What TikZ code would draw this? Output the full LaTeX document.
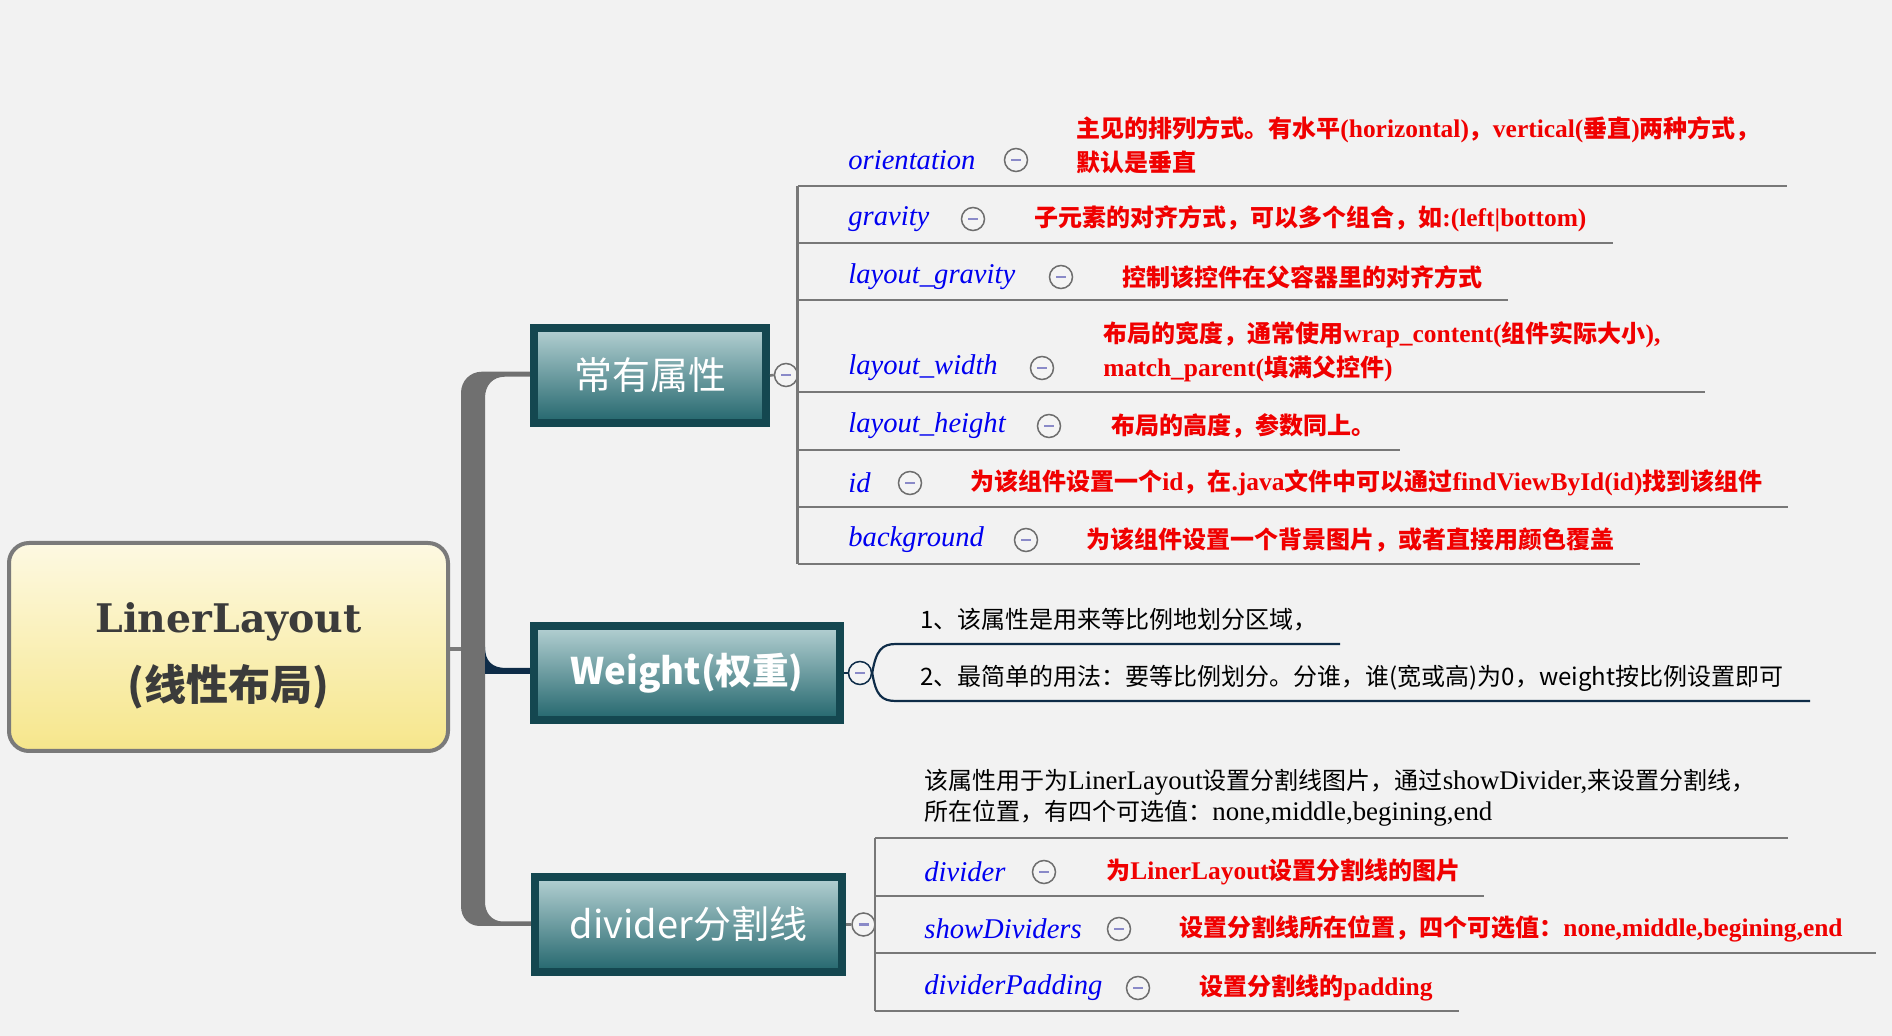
\documentclass[tikz,border=0pt]{standalone}
\usepackage{fontspec}
\newfontfamily\zh{Noto Sans CJK SC}
\newfontfamily\lsr{Liberation Serif}
\newfontfamily\lsx{Liberation Serif}[Scale=1.06]
\newfontfamily\lsy{Liberation Serif}[Scale=1.12]
\newfontfamily\djs{DejaVu Serif}
\newcommand\la[1]{{\lsx #1}}
\newcommand\lb[1]{{\lsy #1}}
\definecolor{bg}{HTML}{F2F2F2}
\definecolor{rootborder}{HTML}{7A7A7A}
\definecolor{roottop}{HTML}{FDF9E2}
\definecolor{rootbot}{HTML}{F6E68B}
\definecolor{roottext}{HTML}{3B3B3B}
\definecolor{trunk}{HTML}{707070}
\definecolor{navy}{HTML}{0E2C48}
\definecolor{topicborder}{HTML}{144750}
\definecolor{topictop}{HTML}{B5D1D3}
\definecolor{topicbot}{HTML}{23666D}
\definecolor{listgray}{HTML}{787878}
\definecolor{toggray}{HTML}{6E6E6E}
\definecolor{togfill}{HTML}{F4F4F4}
\definecolor{minuscol}{HTML}{8A8AC8}
\definecolor{lblblue}{HTML}{0000F0}
\definecolor{dscred}{HTML}{F00000}
\begin{document}
\begin{tikzpicture}[x=0.5pt,y=-0.5pt,
  lbl/.style={anchor=west, inner sep=0pt, text=lblblue, font=\lsr\itshape\fontsize{14.3}{17}\selectfont},
  dsc/.style={anchor=west, inner sep=0pt, text=dscred, align=left, font=\zh\bfseries\fontsize{12}{17}\selectfont},
  nte/.style={anchor=west, inner sep=0pt, text=black, align=left, font=\zh\fontsize{12}{15.5}\selectfont},
  tog/.style={circle, draw=toggray, line width=0.75pt, fill=togfill, minimum size=11.5pt, inner sep=0pt,
    path picture={\draw[line width=1.2pt, minuscol] ([xshift=-2.5pt]path picture bounding box.center) -- ([xshift=2.5pt]path picture bounding box.center);}},
  topic/.style={rectangle, draw=topicborder, line width=4pt, top color=topictop, bottom color=topicbot, text=white, inner sep=0pt, font=\zh\fontsize{19}{22}\selectfont},
  listline/.style={draw=listgray, line width=1.3pt},
  navyline/.style={draw=navy, line width=1.1pt}
]
\useasboundingbox (0,0) rectangle (1892,1036);
\fill[bg] (0,0) rectangle (1892,1036);

% trunk
\fill[trunk] (531,371.7) -- (482,371.7) .. controls (470,371.7) and (461,381) .. (461,393)
  -- (461,906) .. controls (461,918) and (469,926) .. (480,926) -- (531,926)
  -- (531,921.5) -- (503,921.5) .. controls (492,921.5) and (485,913) .. (485,902)
  -- (485,398) .. controls (485,385) and (493,376.7) .. (505,376.7) -- (531,376.7) -- cycle;
% weight connector
\fill[navy] (485,647) .. controls (485,661) and (492,668) .. (506,668) -- (531,668) -- (531,674) -- (485,674) -- cycle;

% root
\node[rectangle, rounded corners=10pt, draw=rootborder, line width=2pt, top color=roottop, bottom color=rootbot,
  minimum width=219.5pt, minimum height=104pt, inner sep=0pt] (root) at (228.5,647) {};
\node[align=center, text=roottext, inner sep=0pt, font=\fontsize{19.7}{34}\selectfont] (roottxt) at (228.5,656)
  {{\djs\bfseries LinerLayout}\\{\zh\bfseries\fontsize{21}{34}\selectfont (线性布局)}};
\coordinate (barL) at (461,649);
\draw[rootborder, line width=2pt] (root.east |- barL) -- (barL);

% topics
\node[topic, minimum width=116pt, minimum height=47.5pt] (t1) at (650,375.5) {常有属性};
\node[topic, minimum width=153pt, minimum height=47pt, font=\zh\bfseries\fontsize{18.3}{22}\selectfont] (t2) at (687,673) {Weight(权重)};
\node[topic, minimum width=153.5pt, minimum height=47.5pt] (t3) at (688.5,924.5) {divider分割线};

% toggles of topics
\node[tog] (c1) at (786,375) {};
\node[tog, draw=navy] (c2) at (860,673) {};
\node[tog] (c3) at (863.5,924.5) {};
\draw[listline] (t1.east) -- (c1.west);
\draw[navyline] (t2.east) -- (c2.west);
\draw[listline] (t3.east) -- (c3.west);

% list 1
\coordinate (l1t) at (797.5,186);
\coordinate (l1b) at (797.5,564);
\draw[listline] (l1t) -- (l1b);
\foreach \yy/\xe in {186/1787, 243/1613, 300/1508, 392/1705, 450/1400, 507/1788, 564/1640}
  \draw[listline] (797.5,\yy) -- (\xe,\yy);

\node[lbl] (a1) at (848,160) {orientation};
\node[tog] (a1c) at (1016,160) {};
\node[dsc] (a1d) at (1076,145) {主见的排列方式。有水平\la{(horizontal)}，\la{vertical(}垂直\la{)}两种方式，\\默认是垂直};

\node[lbl] (a2) at (848,219) {gravity};
\node[tog] (a2c) at (973,219) {};
\node[dsc] (a2d) at (1034,219) {子元素的对齐方式，可以多个组合，如\la{:(left|bottom)}};

\node[lbl] (a3) at (848,277) {layout\_gravity};
\node[tog] (a3c) at (1061,277) {};
\node[dsc] (a3d) at (1122,277) {控制该控件在父容器里的对齐方式};

\node[lbl] (a4) at (848,368) {layout\_width};
\node[tog] (a4c) at (1042,368) {};
\node[dsc] (a4d) at (1103,351.5) {布局的宽度，通常使用\la{wrap\_content(}组件实际大小\la{),}\\\la{match\_parent(}填满父控件\la{)}};

\node[lbl] (a5) at (848,426) {layout\_height};
\node[tog] (a5c) at (1049,426) {};
\node[dsc] (a5d) at (1111,426) {布局的高度，参数同上。};

\node[lbl] (a6) at (848,483) {id};
\node[tog] (a6c) at (910,483) {};
\node[dsc] (a6d) at (970,483) {为该组件设置一个\la{id}，在\la{.java}文件中可以通过\la{findViewById(id)}找到该组件};

\node[lbl] (a7) at (848,540) {background};
\node[tog] (a7c) at (1026,540) {};
\node[dsc] (a7d) at (1086,540) {为该组件设置一个背景图片，或者直接用颜色覆盖};

% weight bracket
\coordinate (w1) at (1340,644);
\coordinate (w2) at (1810,701);
\draw[navyline] (c2.east) .. controls (876,650) and (882,644) .. (896,644) -- (w1);
\draw[navyline] (c2.east) .. controls (876,696) and (882,701) .. (896,701) -- (w2);
\node[nte] (n1) at (920,620) {1、该属性是用来等比例地划分区域，};
\node[nte] (n2) at (920,678) {2、最简单的用法：要等比例划分。分谁，谁(宽或高)为0，weight按比例设置即可};

% list 3
\coordinate (l3t) at (875,838);
\coordinate (l3b) at (875,1011);
\draw[listline] (l3t) -- (l3b);
\foreach \yy/\xe in {838/1788, 896/1484, 953/1876, 1011/1459}
  \draw[listline] (875,\yy) -- (\xe,\yy);

\node[nte] (n3) at (924,797.5) {该属性用于为\lb{LinerLayout}设置分割线图片，通过\lb{showDivider,}来设置分割线，\\所在位置，有四个可选值：\lb{none,middle,begining,end}};

\node[lbl] (b1) at (924,872) {divider};
\node[tog] (b1c) at (1044,872) {};
\node[dsc] (b1d) at (1106,872) {为\la{LinerLayout}设置分割线的图片};

\node[lbl] (b2) at (924,929) {showDividers};
\node[tog] (b2c) at (1119,929) {};
\node[dsc] (b2d) at (1179,929) {设置分割线所在位置，四个可选值：\la{none,middle,begining,end}};

\node[lbl] (b3) at (924,988) {dividerPadding};
\node[tog] (b3c) at (1138,988) {};
\node[dsc] (b3d) at (1199,988) {设置分割线的\la{padding}};
\end{tikzpicture}
\end{document}
